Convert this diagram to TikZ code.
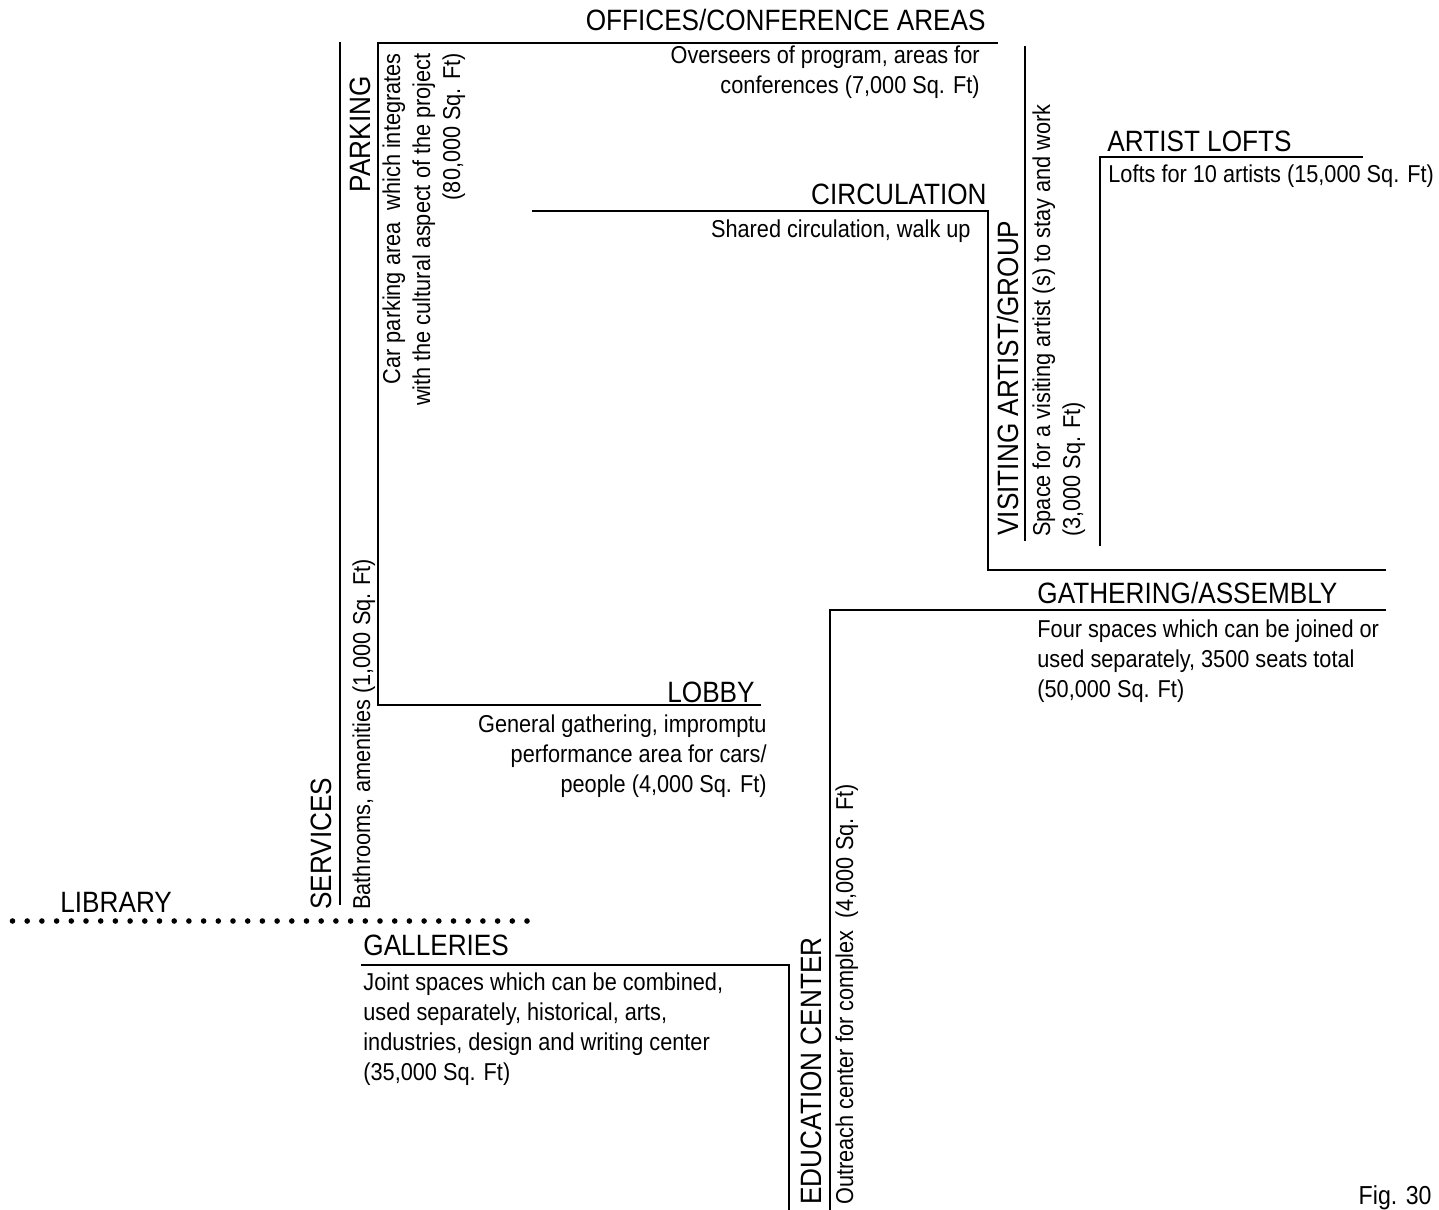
\documentclass[tikz,border=0pt]{standalone}
\usepackage{fontspec}
\setmainfont{Liberation Sans}[FakeStretch=0.89]
\usepackage{xcolor}
\usepackage{tikz}
\usetikzlibrary{positioning, calc}

\tikzset{
    wall/.style={line width=1.25pt, line cap=rect},
    title/.style={font=\fontsize{14.7}{17}\selectfont, inner sep=0pt},
    note/.style={font=\fontsize{12.2}{15}\selectfont, inner sep=0pt},
}

\begin{document}
\begin{tikzpicture}[x=0.5pt, y=-0.5pt]
    \useasboundingbox (0,0) rectangle (1439,1209);

    % Corners of the program lines
    \coordinate (offEnd) at (997,43);
    \coordinate (srvTop) at (340,43);
    \coordinate (srvEnd) at (340,904);
    \coordinate (prkTop) at (378,43);
    \coordinate (lobCorner) at (378,705);
    \coordinate (lobEnd) at (760,705);
    \coordinate (cirStart) at (533,211);
    \coordinate (cirCorner) at (988,211);
    \coordinate (visCorner) at (988,570);
    \coordinate (visEnd) at (1385,570);
    \coordinate (visTop) at (1025,47);
    \coordinate (visBot) at (1025,540);
    \coordinate (lofEnd) at (1362,157);
    \coordinate (lofCorner) at (1100,157);
    \coordinate (lofBot) at (1100,545);
    \coordinate (gatEnd) at (1385,610);
    \coordinate (gatCorner) at (830,610);
    \coordinate (gatBot) at (830,1209);
    \coordinate (galStart) at (362,965);
    \coordinate (galCorner) at (789,965);
    \coordinate (galBot) at (789,1209);

    % Lines
    \draw[wall] (srvTop) -- (srvEnd);
    \draw[wall] (offEnd) -- (prkTop) -- (lobCorner) -- (lobEnd);
    \draw[wall] (cirStart) -- (cirCorner) -- (visCorner) -- (visEnd);
    \draw[wall] (visTop) -- (visBot);
    \draw[wall] (lofEnd) -- (lofCorner) -- (lofBot);
    \draw[wall] (gatEnd) -- (gatCorner) -- (gatBot);
    \draw[wall] (galStart) -- (galCorner) -- (galBot);

    % Library axis (dotted)
    \foreach \i in {0,...,35}
        \fill ({527-14.7*\i},921) circle (2.8);
    \node[title, anchor=base west] (library) at (60,912) {LIBRARY};

    % Services / parking
    \node[title, rotate=90, anchor=base west] (services) at (331,910) {SERVICES};
    \node[note, rotate=90, anchor=base west] (servicesTxt) at (370,910) {Bathrooms, amenities (1,000 Sq. Ft)};
    \node[title, rotate=90, anchor=base east] (parking) at (370,76) {PARKING};
    \node[note, rotate=90, align=right, anchor=north east] (parkingTxt) at (382,53)
        {Car parking area\ \ which integrates\\with the cultural aspect of the project\\(80,000 Sq. Ft)};

    % Offices
    \node[title, anchor=base east] (offices) at (986,31) {OFFICES/CONFERENCE AREAS};
    \node[note, align=right, anchor=north east] (officesTxt) at (980,45)
        {Overseers of program, areas for\\conferences (7,000 Sq. Ft)};

    % Circulation
    \node[title, anchor=base east] (circulation) at (987,205) {CIRCULATION};
    \node[note, anchor=north east] (circulationTxt) at (971,219) {Shared circulation, walk up};

    % Visiting artist
    \node[title, rotate=90, anchor=base west] (visiting) at (1018,536) {VISITING ARTIST/GROUP};
    \node[note, rotate=90, align=left, anchor=north west] (visitingTxt) at (1032,537)
        {Space for a visiting artist (s) to stay and work\\(3,000 Sq. Ft)};

    % Artist lofts
    \node[title, anchor=base west] (lofts) at (1107,152) {ARTIST LOFTS};
    \node[note, anchor=north west] (loftsTxt) at (1108,164) {Lofts for 10 artists (15,000 Sq. Ft)};

    % Gathering
    \node[title, anchor=base west] (gathering) at (1037,603) {GATHERING/ASSEMBLY};
    \node[note, align=left, anchor=north west] (gatheringTxt) at (1037,619)
        {Four spaces which can be joined or\\used separately, 3500 seats total\\(50,000 Sq. Ft)};

    % Lobby
    \node[title, anchor=base east] (lobby) at (755,702) {LOBBY};
    \node[note, align=right, anchor=north east] (lobbyTxt) at (767,714)
        {General gathering, impromptu\\performance area for cars/\\people (4,000 Sq. Ft)};

    % Education
    \node[title, rotate=90, anchor=base west] (education) at (821,1205) {EDUCATION CENTER};
    \node[note, rotate=90, anchor=base west] (educationTxt) at (853,1205) {Outreach center for complex\ \ (4,000 Sq. Ft)};

    % Galleries
    \node[title, anchor=base west] (galleries) at (363,955) {GALLERIES};
    \node[note, align=left, anchor=north west] (galleriesTxt) at (363,972)
        {Joint spaces which can be combined,\\used separately, historical, arts,\\industries, design and writing center\\(35,000 Sq. Ft)};

    \node[note, font=\fontsize{13}{15}\selectfont, anchor=base east] (fig) at (1432,1204) {Fig. 30};
\end{tikzpicture}
\end{document}
